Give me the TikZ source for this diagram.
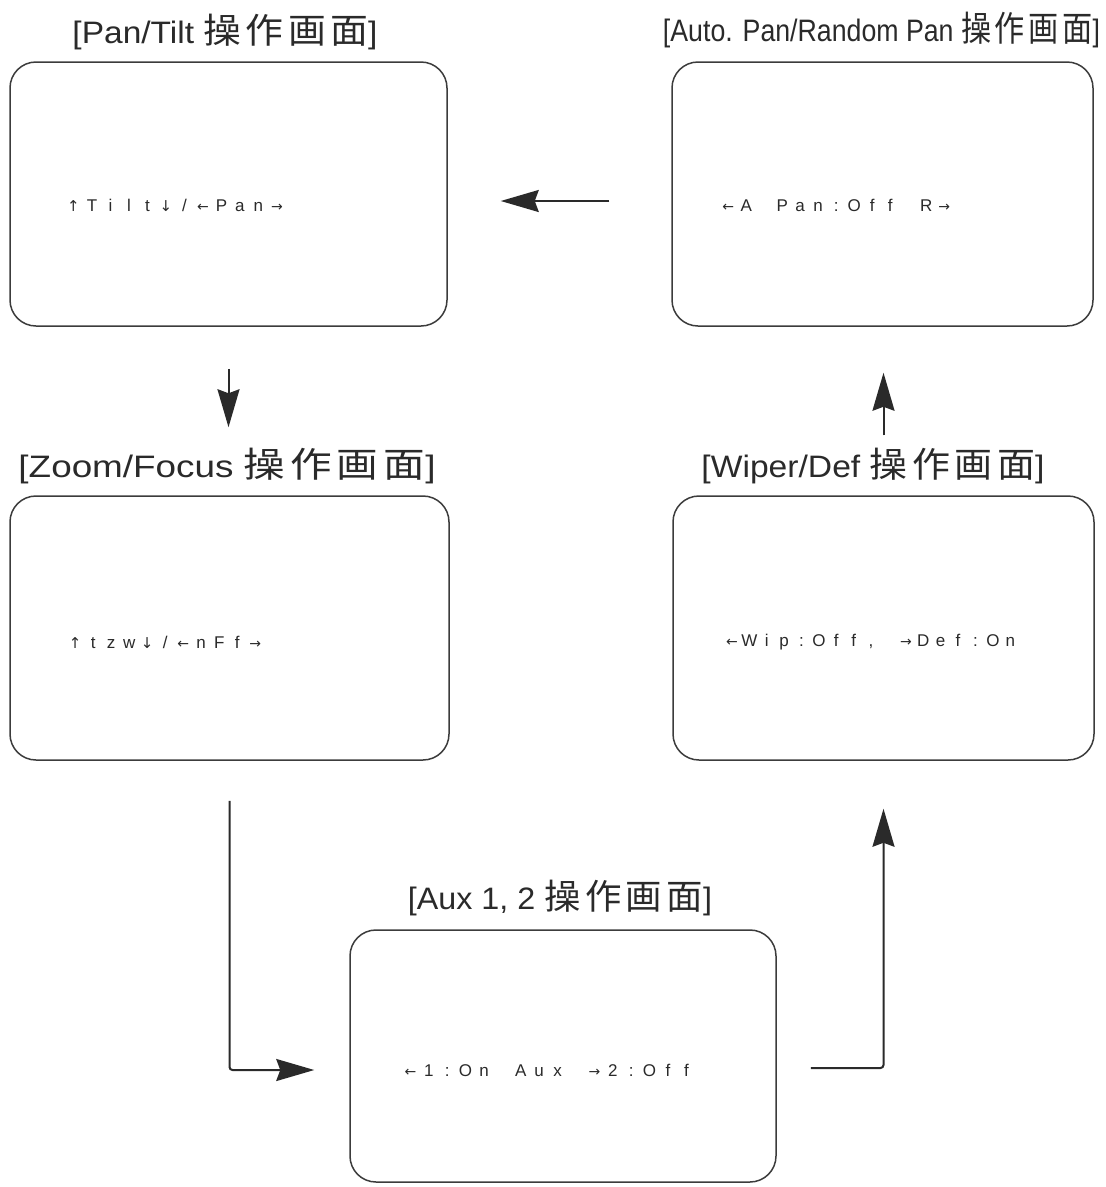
\documentclass[tikz,border=0pt]{standalone}
\usepackage{fontspec}
\usepackage{graphicx}
\usetikzlibrary{arrows.meta}
\setmainfont{Liberation Sans}
\newfontfamily\cjk[LetterSpace=12]{Noto Sans CJK JP}
\newfontfamily\osdfont{Liberation Sans}
\newfontfamily\arrfont{DejaVu Sans}
\definecolor{ink}{HTML}{2A2A2A}
\definecolor{boxline}{HTML}{3C3C3C}
% OSD fixed-cell text
\newlength\osdcell
\def\osdend{\osdend}
\newcommand\osd[2]{\setlength\osdcell{#1}\osdloop#2\osdend}
\def\osdloop#1{\ifx#1\osdend\else\makebox[\osdcell][c]{#1}\expandafter\osdloop\fi}
\newcommand\La{{\arrfont\fontsize{14}{16}\selectfont ←}}
\newcommand\Ra{{\arrfont\fontsize{14}{16}\selectfont →}}
\newcommand\Ua{{\arrfont\fontsize{15}{16}\selectfont ↑}}
\newcommand\Da{{\arrfont\fontsize{15}{16}\selectfont ↓}}
\newcommand\sousa{{\cjk\fontsize{35}{38}\selectfont 操作画面}}
\newcommand\ttl[2]{\resizebox{#1}{\height}{\fontsize{31}{38}\selectfont #2}}
\begin{document}
\begin{tikzpicture}[x=1pt,y=-1pt,
  screen/.style={draw=boxline, line width=1.5pt, rounded corners=26pt, inner sep=0pt},
  title/.style={inner sep=0pt, text=ink},
  osdtxt/.style={inner sep=0pt, anchor=west, text=ink, font=\osdfont\fontsize{17}{20}\selectfont},
  conn/.style={draw=ink, line width=2pt, rounded corners=3pt,
    -{Stealth[length=38pt,width=22pt,inset=4pt]}}]
\useasboundingbox[fill=white] (0,0) rectangle (1106,1187);
% screens
\node[screen, minimum width=437pt, minimum height=264pt] (PT)  at (228.5,194) {};
\node[screen, minimum width=421pt, minimum height=264pt] (AP)  at (882.5,194) {};
\node[screen, minimum width=439pt, minimum height=264pt] (ZF)  at (229.5,628) {};
\node[screen, minimum width=421pt, minimum height=264pt] (WD)  at (883.5,628) {};
\node[screen, minimum width=426pt, minimum height=252pt] (AUX) at (563,1056) {};
% titles
\node[title] (PTt)  at (225,32)  {\ttl{305pt}{[Pan/Tilt \sousa]}};
\node[title] (APt)  at (881.5,30) {\ttl{437pt}{[Auto. Pan/Random Pan \sousa]}};
\node[title] (ZFt)  at (227,466) {\ttl{417pt}{[Zoom/Focus \sousa]}};
\node[title] (WDt)  at (873,466) {\ttl{343pt}{[Wiper/Def \sousa]}};
\node[title] (AUXt) at (560,898) {\ttl{304pt}{[Aux 1, 2 \sousa]}};
% OSD texts
\node[osdtxt] (PTx)  at (64,205)   {\osd{18.5pt}{\Ua Tilt\Da/\La Pan\Ra}};
\node[osdtxt] (APx)  at (719,205)  {\osd{18pt}{\La A~Pan:Off~R\Ra}};
\node[osdtxt] (ZFx)  at (66,642)   {\osd{18pt}{\Ua tzw\Da/\La nFf\Ra}};
\node[osdtxt] (WDx)  at (723,642)  {\osd{17.4pt}{\La Wip:Off,~\Ra Def:On}};
\node[osdtxt] (AUXx) at (401,1070) {\osd{18.4pt}{\La 1:On~Aux~\Ra 2:Off}};
% connectors
\draw[conn, shorten <=62pt, shorten >=53pt] ([yshift=-7pt]AP.west) -- ([yshift=-7pt]PT.east);
\draw[conn, shorten <=42pt, shorten >=68pt] (PT.south) -- (PT.south |- ZF.north);
\draw[conn, shorten <=60pt, shorten >=46pt] (WD.north) -- (WD.north |- AP.south);
\draw[conn, shorten <=40pt, shorten >=35pt] (ZF.south) |- ([yshift=-14pt]AUX.west);
\draw[conn, shorten <=34pt, shorten >=48pt] ([yshift=-12pt]AUX.east) -| (WD.south);
\end{tikzpicture}
\end{document}
